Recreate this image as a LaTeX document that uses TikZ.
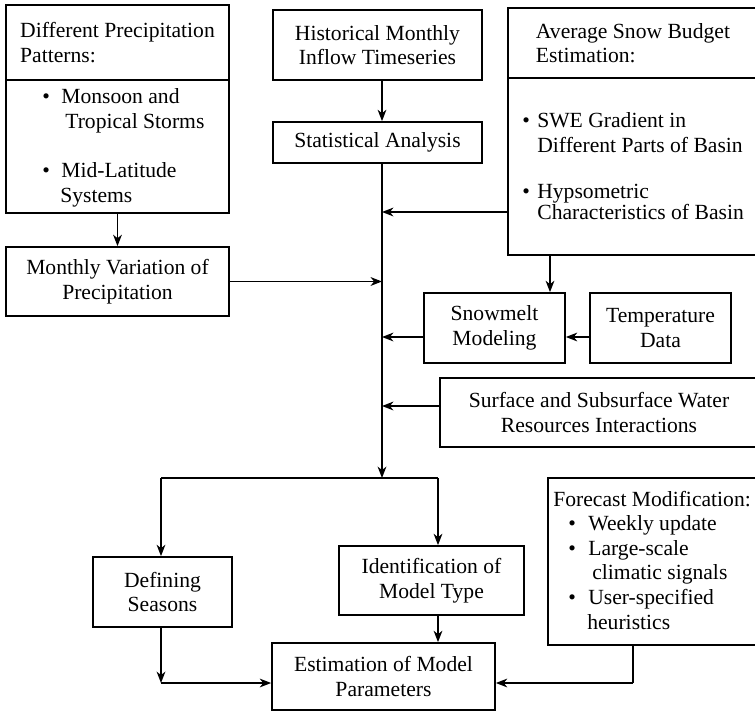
\documentclass[tikz,border=0pt]{standalone}
\usepackage{fontspec}
\setmainfont{Liberation Serif}
\usetikzlibrary{arrows.meta}

% bullet in a box of fixed width, so that list text lines up
\newcommand{\bulbox}[1]{\makebox[#1][l]{\textbullet}}

\tikzset{
  blk/.style={draw, line width=1pt, rectangle, inner sep=0pt, align=center},
  txt/.style={inner sep=0pt, align=left, anchor=west},
  line/.style={line width=0.8pt},
  flow/.style={line width=0.8pt, -{Stealth[length=6.5pt, width=5pt, inset=2pt]}},
}

\begin{document}
\begin{tikzpicture}[x=0.02cm, y=-0.02cm, font=\fontsize{12.3}{14}\selectfont, line join=miter]
	%Frame
	\useasboundingbox (0,0) rectangle (755,714);
	\fill[white] (0,0) rectangle (755,714);

	%Coordinates
	%Trunk split and corners
	\coordinate (trunk) at (382,478);
	\coordinate (lsplit) at (161,478);
	\coordinate (rsplit) at (438,478);
	\coordinate (corner) at (161,683);
	\coordinate (fcorner) at (633,683);
	%Tap heights on the trunk
	\coordinate (s1) at (0,212);
	\coordinate (s2) at (550,0);
	\coordinate (s3) at (0,337);
	\coordinate (s4) at (0,406);

	%Precipitation patterns
	\node[blk, minimum width=4.46cm, minimum height=1.5cm, align=left] (patthead) at (117.5,42.5) {Different Precipitation\\Patterns:};
	\node[blk, minimum width=4.46cm, minimum height=2.66cm] (pattbody) at (117.5,146.5) {};
	\node[txt] (pattlist) at (42,148) {\bulbox{0.38cm}Monsoon and\\\hspace{0.46cm}Tropical Storms\\[0.5cm]\bulbox{0.38cm}Mid-Latitude\\\hspace{0.36cm}Systems};
	\node[blk, minimum width=4.46cm, minimum height=1.38cm] (monthly) at (117.5,281.5) {Monthly Variation of\\Precipitation};

	%Inflow series
	\node[blk, minimum width=4.18cm, minimum height=1.4cm] (hist) at (377.5,45) {Historical Monthly\\Inflow Timeseries};
	\node[blk, minimum width=4.18cm, minimum height=0.82cm] (stat) at (377.5,142.5) {Statistical Analysis};

	%Snow budget
	\node[blk, minimum width=5cm, minimum height=1.4cm, align=left] (snowhead) at (633,43) {Average Snow Budget\\Estimation:};
	\node[blk, minimum width=5cm, minimum height=3.54cm] (snowbody) at (633,166.5) {};
	\node[txt] (snowlist) at (522,166) {\bulbox{0.3cm}SWE Gradient in\\\hspace{0.3cm}Different Parts of Basin\\[0.44cm]\bulbox{0.3cm}Hypsometric\\[-0.08cm]\hspace{0.3cm}Characteristics of Basin};
	\node[blk, minimum width=2.82cm, minimum height=1.4cm] (snowmelt) at (494.5,328) {Snowmelt\\Modeling};
	\node[blk, minimum width=2.82cm, minimum height=1.4cm] (temp) at (660.5,328) {Temperature\\Data};
	\node[blk, minimum width=6.36cm, minimum height=1.38cm] (surf) at (599,412.5) {Surface and Subsurface Water\\Resources Interactions};

	%Lower part
	\node[blk, minimum width=4.2cm, minimum height=3.34cm] (forecast) at (653,561.5) {};
	\node[txt] (forelist) at (553,560) {Forecast Modification:\\\hspace{0.3cm}\bulbox{0.4cm}Weekly update\\\hspace{0.3cm}\bulbox{0.4cm}Large-scale\\\hspace{0.78cm}climatic signals\\\hspace{0.3cm}\bulbox{0.4cm}User-specified\\\hspace{0.68cm}heuristics};
	\node[blk, minimum width=2.78cm, minimum height=1.4cm] (defin) at (162.5,592) {Defining\\Seasons};
	\node[blk, minimum width=3.7cm, minimum height=1.38cm] (ident) at (431.5,580.5) {Identification of\\Model Type};
	\node[blk, minimum width=4.46cm, minimum height=1.34cm] (estim) at (383.5,676.5) {Estimation of Model\\Parameters};

	%Connectors
	\draw[flow] (pattbody.south) -- (monthly.north);
	\draw[flow] (hist.south -| trunk) -- (stat.north -| trunk);
	\draw[flow] (stat.south -| trunk) -- (trunk);
	\draw[flow] (monthly.east) -- (monthly.east -| trunk);
	\draw[flow] (snowbody.west |- s1) -- (trunk |- s1);
	\draw[flow] (snowbody.south -| s2) -- (snowmelt.north -| s2);
	\draw[flow] (temp.west |- s3) -- (snowmelt.east |- s3);
	\draw[flow] (snowmelt.west |- s3) -- (trunk |- s3);
	\draw[flow] (surf.west |- s4) -- (trunk |- s4);
	\draw[line] (lsplit) -- (rsplit);
	\draw[flow] (lsplit) -- (defin.north -| lsplit);
	\draw[flow] (rsplit) -- (ident.north -| rsplit);
	\draw[flow] (ident.south -| rsplit) -- (estim.north -| rsplit);
	\draw[flow] (defin.south -| corner) -- (corner);
	\draw[flow] (corner) -- (estim.west |- corner);
	\draw[line] (forecast.south -| fcorner) -- (fcorner);
	\draw[flow] (fcorner) -- (estim.east |- fcorner);

\end{tikzpicture}
\end{document}
